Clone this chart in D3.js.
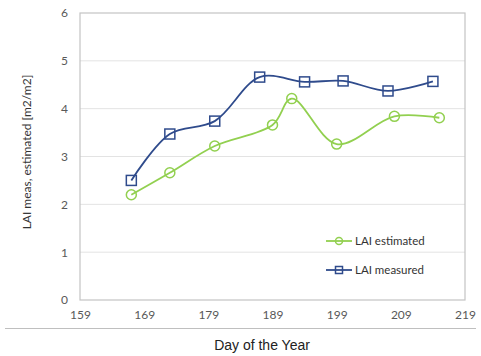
<!DOCTYPE html>
<html>
<head>
<meta charset="utf-8">
<script src="https://cdn.jsdelivr.net/npm/d3@7"></script>
<style>
  body { margin: 0; background: #fff; }
  text { font-family: Lato, "Liberation Sans", sans-serif; }
</style>
</head>
<body>
<div id="chart"></div>
<script>
// chart data
const measDays = [167, 173, 180, 187, 194, 200, 207, 214];
const measValues = [2.5, 3.47, 3.74, 4.66, 4.56, 4.58, 4.37, 4.57];
const estDays = [167, 173, 180, 189, 192, 199, 208, 215];
const estValues = [2.2, 2.66, 3.22, 3.66, 4.21, 3.26, 3.84, 3.81];
const xTicks = [159, 169, 179, 189, 199, 209, 219];
const yTicks = [0, 1, 2, 3, 4, 5, 6];

const width = 481, height = 356;
const margin = { top: 13, right: 16, bottom: 56, left: 80 };

const svg = d3.select('#chart')
  .append('svg')
  .attr('width', width)
  .attr('height', height);

// Scales
const x = d3.scaleLinear().domain([159, 219]).range([margin.left, width - margin.right]);
const y = d3.scaleLinear().domain([0, 6]).range([height - margin.bottom, margin.top]);

// Gridlines
svg.append('g')
  .selectAll('line')
  .data(yTicks.slice(1, -1))
  .enter()
  .append('line')
  .attr('x1', x(159))
  .attr('x2', x(219))
  .attr('y1', d => y(d))
  .attr('y2', d => y(d))
  .attr('stroke', '#e3e3e3')
  .attr('stroke-width', 1);

// Plot frame
svg.append('rect')
  .attr('x', x(159))
  .attr('y', y(6))
  .attr('width', x(219) - x(159))
  .attr('height', y(0) - y(6))
  .attr('fill', 'none')
  .attr('stroke', '#c4c4c4')
  .attr('stroke-width', 1.2);

// Axes
const xAxis = d3.axisBottom(x).tickValues(xTicks).tickSize(0).tickPadding(10).tickFormat(d3.format('d'));
const yAxis = d3.axisLeft(y).tickValues(yTicks).tickSize(0).tickPadding(12).tickFormat(d3.format('d'));

svg.append('g')
  .attr('class', 'x-axis')
  .attr('transform', `translate(0,${y(0)})`)
  .call(xAxis)
  .call(g => g.select('.domain').remove())
  .selectAll('text')
  .attr('font-size', 12)
  .attr('fill', '#595959');

svg.append('g')
  .attr('class', 'y-axis')
  .attr('transform', `translate(${x(159)},0)`)
  .call(yAxis)
  .call(g => g.select('.domain').remove())
  .selectAll('text')
  .attr('font-size', 12)
  .attr('fill', '#595959');

// Outer separator line below tick labels
svg.append('line')
  .attr('x1', 5)
  .attr('x2', 476)
  .attr('y1', 328.5)
  .attr('y2', 328.5)
  .attr('stroke', '#bfbfbf')
  .attr('stroke-width', 1);

// Axis labels
svg.append('text')
  .attr('text-anchor', 'middle')
  .attr('x', 262)
  .attr('y', 350)
  .attr('font-size', 14)
  .style('font-family', '"Liberation Sans", Arial, sans-serif')
  .attr('fill', '#222')
  .text('Day of the Year');

svg.append('text')
  .attr('text-anchor', 'middle')
  .attr('transform', 'rotate(-90)')
  .attr('x', -152)
  .attr('y', 31)
  .attr('font-size', 12)
  .attr('fill', '#333')
  .text('LAI  meas, estimated [m2/m2]');

// Series
const series = [
  { name: 'LAI estimated', days: estDays, values: estValues, color: '#92d050', shape: 'circle' },
  { name: 'LAI measured', days: measDays, values: measValues, color: '#2f4b8c', shape: 'square' }
];

const line = d3.line()
  .x(d => x(d[0]))
  .y(d => y(d[1]))
  .curve(d3.curveCatmullRom.alpha(0.5));

series.forEach(s => {
  const pts = s.days.map((d, i) => [d, s.values[i]]);
  svg.append('path')
    .datum(pts)
    .attr('fill', 'none')
    .attr('stroke', s.color)
    .attr('stroke-width', 1.8)
    .attr('d', line);

  drawMarkers(svg.append('g'), pts.map(p => [x(p[0]), y(p[1])]), s);
});

function drawMarkers(g, coords, s) {
  if (s.shape === 'circle') {
    g.selectAll('circle')
      .data(coords)
      .enter()
      .append('circle')
      .attr('cx', d => d[0])
      .attr('cy', d => d[1])
      .attr('r', 5)
      .attr('fill', 'none')
      .attr('stroke', s.color)
      .attr('stroke-width', 1.5);
  } else {
    g.selectAll('rect')
      .data(coords)
      .enter()
      .append('rect')
      .attr('x', d => d[0] - 5)
      .attr('y', d => d[1] - 5)
      .attr('width', 10)
      .attr('height', 10)
      .attr('fill', 'none')
      .attr('stroke', s.color)
      .attr('stroke-width', 1.5);
  }
}

// Legend
const legend = svg.append('g').attr('transform', 'translate(326,241)');
series.forEach((s, i) => {
  const row = legend.append('g').attr('transform', `translate(0,${i * 29})`);
  row.append('line')
    .attr('x1', 0).attr('x2', 26)
    .attr('y1', 0).attr('y2', 0)
    .attr('stroke', s.color)
    .attr('stroke-width', 1.8);
  drawMarkers(row, [[13, 0]], Object.assign({}, s));
  row.select('circle').attr('r', 3.5);
  row.select('rect').attr('x', 9.5).attr('y', -3.5).attr('width', 7).attr('height', 7);
  row.append('text')
    .attr('x', 29)
    .attr('y', 4)
    .attr('font-size', 11.5)
    .attr('fill', '#333')
    .text(s.name);
});
</script>
</body>
</html>
